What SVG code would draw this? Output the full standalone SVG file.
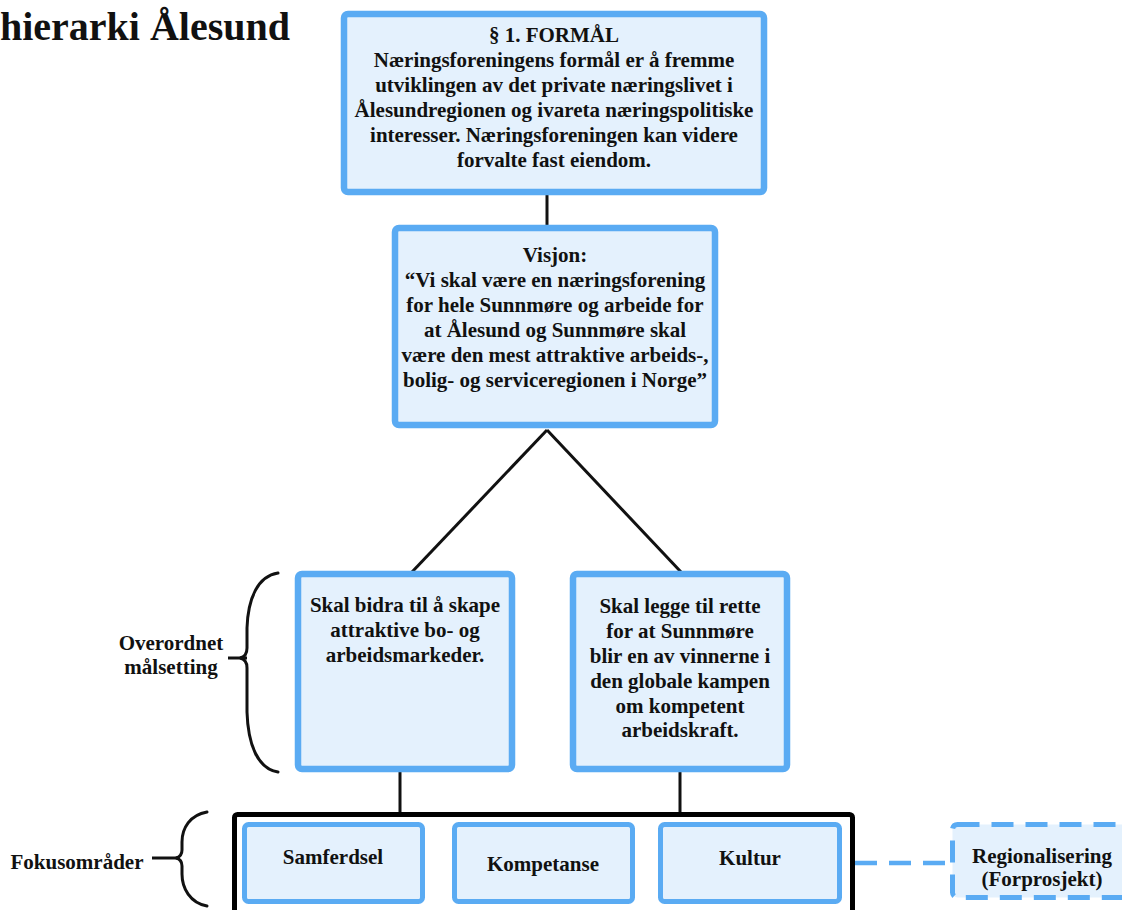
<svg xmlns="http://www.w3.org/2000/svg" width="1122" height="910" viewBox="0 0 1122 910">
  <style>
    .box { fill: #e4f1fd; stroke: #5aabf3; stroke-width: 6.5; }
    .sub { fill: #e4f1fd; stroke: #5aabf3; stroke-width: 5; }
    .dash { fill: #e4f1fd; stroke: #5aabf3; stroke-width: 5; stroke-dasharray: 22 12; }
    .frame { fill: #ffffff; stroke: #000000; stroke-width: 5; }
    .t { font-family: "Liberation Serif", "Times New Roman", serif; font-weight: bold; font-size: 21px; fill: #111111; text-anchor: middle; }
    .title { font-family: "Liberation Serif", "Times New Roman", serif; font-weight: bold; font-size: 40px; fill: #111111; }
    .link { stroke: #111111; stroke-width: 3; fill: none; }
    .brace { stroke: #111111; stroke-width: 3; fill: none; stroke-linecap: round; }
    .dlink { stroke: #5aabf3; stroke-width: 4.5; fill: none; stroke-dasharray: 22 12; }
  </style>

  <text class="title" x="0" y="40">hierarki Ålesund</text>

  <!-- connectors -->
  <g id="connectors">
    <line class="link" x1="547" y1="195" x2="547" y2="226"/>
    <line class="link" x1="547" y1="430" x2="412" y2="572"/>
    <line class="link" x1="547" y1="430" x2="681" y2="572"/>
    <line class="link" x1="400" y1="772" x2="400" y2="813"/>
    <line class="link" x1="680" y1="772" x2="680" y2="813"/>
    <line class="dlink" x1="855" y1="863" x2="952" y2="863"/>
  </g>

  <!-- side labels with braces -->
  <g id="label-overordnet">
    <path class="brace" d="M278,573 C258,576 248,598 247,628 L247,648 C247,654 245,657 240,658 C245,659 247,662 247,668 L247,712 C248,745 258,769 278,772"/>
    <line class="link" x1="228" y1="658" x2="247" y2="658"/>
    <text class="t" x="171" y="650">Overordnet</text>
    <text class="t" x="171" y="674">målsetting</text>
  </g>

  <g id="label-fokus">
    <path class="brace" d="M207,812 C190,815 182,828 182,842 L182,850 C182,855 180,857 176,858 C180,859 182,861 182,866 L182,874 C182,888 190,903 207,906"/>
    <line class="link" x1="152" y1="858" x2="178" y2="858"/>
    <text class="t" x="77" y="869">Fokusområder</text>
  </g>

  <!-- purpose -->
  <g id="node-formal">
    <rect class="box" x="344" y="14" width="420" height="178" rx="4"/>
    <text class="t" x="554" y="42">§ 1. FORMÅL</text>
    <text class="t" x="554" y="67">Næringsforeningens formål er å fremme</text>
    <text class="t" x="554" y="92">utviklingen av det private næringslivet i</text>
    <text class="t" x="554" y="117">Ålesundregionen og ivareta næringspolitiske</text>
    <text class="t" x="554" y="142">interesser. Næringsforeningen kan videre</text>
    <text class="t" x="554" y="167">forvalte fast eiendom.</text>
  </g>

  <!-- vision -->
  <g id="node-visjon">
    <rect class="box" x="395" y="228" width="320" height="197" rx="4"/>
    <text class="t" x="555" y="262">Visjon:</text>
    <text class="t" x="555" y="287">“Vi skal være en næringsforening</text>
    <text class="t" x="555" y="312">for hele Sunnmøre og arbeide for</text>
    <text class="t" x="555" y="337">at Ålesund og Sunnmøre skal</text>
    <text class="t" x="555" y="362">være den mest attraktive arbeids-,</text>
    <text class="t" x="555" y="387">bolig- og serviceregionen i Norge”</text>
  </g>

  <!-- overall goals -->
  <g id="node-mal-1">
    <rect class="box" x="298" y="574" width="214" height="195" rx="4"/>
    <text class="t" x="405" y="612">Skal bidra til å skape</text>
    <text class="t" x="405" y="637">attraktive bo- og</text>
    <text class="t" x="405" y="662">arbeidsmarkeder.</text>
  </g>

  <g id="node-mal-2">
    <rect class="box" x="573" y="574" width="214" height="195" rx="4"/>
    <text class="t" x="680" y="613">Skal legge til rette</text>
    <text class="t" x="680" y="638">for at Sunnmøre</text>
    <text class="t" x="680" y="663">blir en av vinnerne i</text>
    <text class="t" x="680" y="688">den globale kampen</text>
    <text class="t" x="680" y="713">om kompetent</text>
    <text class="t" x="680" y="737">arbeidskraft.</text>
  </g>

  <!-- focus areas -->
  <g id="node-fokus">
    <rect class="frame" x="234.5" y="814.5" width="618" height="130" rx="3"/>
  </g>

  <g id="node-samferdsel">
    <rect class="sub" x="244.5" y="824.5" width="178" height="77" rx="4"/>
    <text class="t" x="333" y="864">Samferdsel</text>
  </g>

  <g id="node-kompetanse">
    <rect class="sub" x="454.5" y="824.5" width="178" height="77" rx="4"/>
    <text class="t" x="543" y="871">Kompetanse</text>
  </g>

  <g id="node-kultur">
    <rect class="sub" x="660.5" y="824.5" width="179" height="77" rx="4"/>
    <text class="t" x="750" y="865">Kultur</text>
  </g>

  <!-- pre-project -->
  <g id="node-regionalisering">
    <rect class="dash" x="952.5" y="824.5" width="190" height="73" rx="5"/>
    <text class="t" x="1042" y="863">Regionalisering</text>
    <text class="t" x="1042" y="886">(Forprosjekt)</text>
  </g>
</svg>
